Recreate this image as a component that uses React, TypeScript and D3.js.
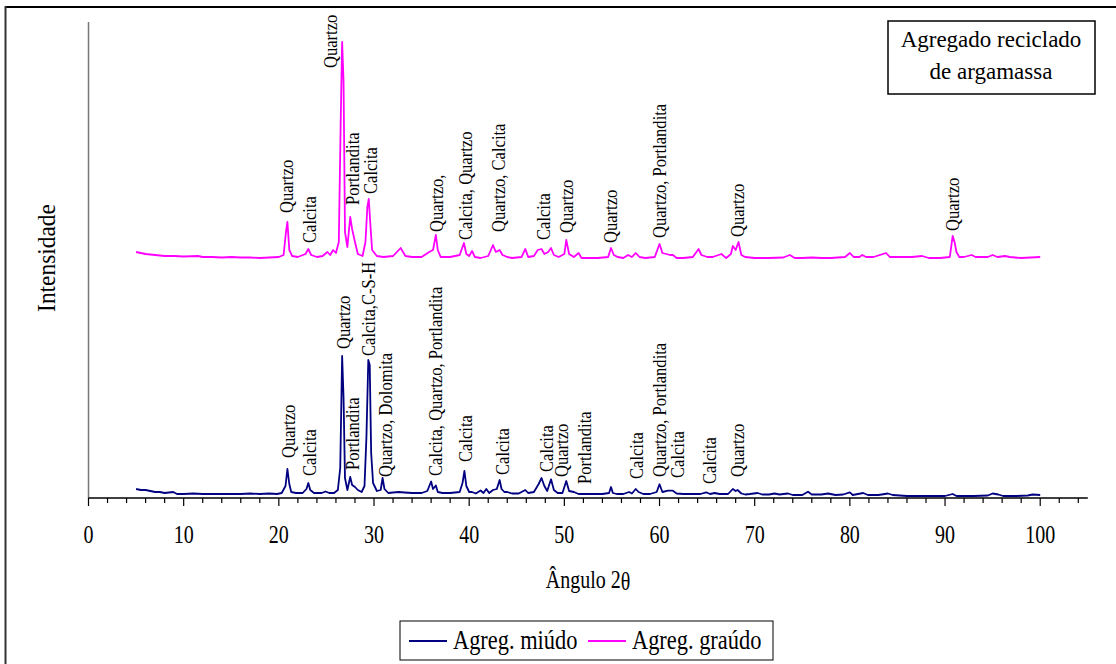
import React from "react";
import * as d3 from "d3";

// Difratograma de raios X – agregado reciclado de argamassa
// Pairs are [ângulo 2θ, intensidade (u.a.)]

const agregMiudo: [number, number][] = [
  [5.0, 9], [5.5, 8], [6.0, 8], [6.5, 7], [7.0, 6], [7.5, 6], [8.0, 5], [8.9, 6], [9.3, 4],
  [10, 4], [11, 4.5], [12, 4], [13, 4], [14, 4], [15, 4], [16, 4], [17, 4.5], [18, 4],
  [19, 4.5], [19.8, 4], [20.3, 5], [20.7, 12], [20.9, 29], [21.1, 14], [21.3, 6], [21.8, 5],
  [22.5, 5], [22.9, 9], [23.1, 15], [23.3, 8], [23.7, 5], [24.5, 5], [24.9, 6.5], [25.3, 5],
  [25.8, 5], [26.2, 8], [26.45, 30], [26.65, 142], [26.8, 100], [26.95, 20], [27.2, 8],
  [27.5, 21], [27.7, 13], [28.0, 11], [28.3, 8], [28.7, 6], [29.0, 12], [29.2, 60],
  [29.4, 138], [29.55, 133], [29.7, 45], [29.9, 15], [30.3, 7], [30.7, 8], [30.9, 20],
  [31.1, 9], [31.5, 5], [32.0, 5.5], [32.6, 6], [33.2, 5.5], [34, 5], [35, 5], [35.6, 7],
  [36.0, 16.5], [36.2, 9], [36.5, 12.5], [36.7, 6], [37.2, 5], [38, 5], [39.0, 6], [39.3, 15],
  [39.5, 27], [39.7, 12], [40.0, 6], [40.3, 6], [40.7, 4.5], [41.2, 7.5], [41.5, 5], [41.8, 9],
  [42.1, 5], [42.5, 8], [42.9, 9], [43.2, 18], [43.4, 9], [43.7, 6], [44.0, 6], [44.5, 4.5],
  [45.2, 4.5], [45.9, 8], [46.2, 5], [46.8, 6], [47.3, 14], [47.6, 20], [47.9, 12], [48.2, 7],
  [48.6, 18.7], [48.9, 8], [49.3, 5], [49.8, 5], [50.2, 17], [50.5, 7], [51.0, 6], [51.5, 4],
  [52, 4], [53, 4], [54, 4], [54.7, 5], [54.9, 11], [55.1, 5], [55.5, 4], [56.2, 4], [56.8, 6],
  [57.1, 4.5], [57.5, 9], [57.8, 6], [58.3, 4], [59.0, 4], [59.7, 6], [60.0, 13.7], [60.3, 6],
  [60.9, 7.3], [61.4, 7.3], [61.8, 4.5], [62.5, 4], [63.5, 4], [64.3, 4], [64.9, 5.7], [65.3, 4],
  [65.8, 5], [66.3, 4], [67.2, 4], [67.7, 9], [68.0, 7], [68.2, 8], [68.6, 4.5], [69.0, 3.5],
  [69.5, 4], [70.3, 5], [70.8, 3.5], [71.5, 3.5], [72.1, 4.5], [72.6, 3.5], [73.5, 4.5], [74, 3],
  [75, 3], [75.6, 6.3], [76, 3.5], [77, 3.5], [77.7, 4.5], [78.5, 3], [79.3, 3.5], [80.0, 5.7],
  [80.3, 3], [81.4, 5], [81.9, 3], [83, 3], [84.0, 4.5], [84.5, 3], [86, 2], [88, 2], [90, 2],
  [90.8, 4], [91.2, 2], [93, 2], [94.5, 2.5], [95.0, 4.5], [95.6, 3.5], [96.1, 2], [97.5, 2],
  [98.7, 2.5], [99.2, 3.5], [100, 3],
];

const agregGraudo: [number, number][] = [
  [5.0, 10], [5.5, 9], [6.0, 8], [6.5, 7.5], [7, 7], [8, 6], [9, 6], [10, 5.5], [11.5, 6], [12, 5],
  [13, 5], [14, 4.5], [15, 5], [16, 4.5], [17, 4.5], [18, 4], [19, 4.5], [20, 5], [20.5, 7],
  [20.75, 30], [20.9, 40], [21.1, 12], [21.4, 6], [22, 5], [22.8, 8], [23.1, 13], [23.4, 7],
  [24, 5], [24.6, 6], [25.1, 10], [25.4, 7], [25.7, 12], [26.0, 9], [26.3, 20], [26.5, 140],
  [26.65, 220], [26.8, 180], [26.95, 30], [27.2, 15], [27.5, 45], [27.7, 33], [28.0, 20],
  [28.3, 8], [28.8, 6], [29.1, 20], [29.3, 55], [29.45, 63], [29.6, 40], [29.8, 12], [30.3, 6],
  [31, 5], [32.0, 6], [32.8, 14], [33.3, 6], [34, 5], [35, 5], [35.8, 10], [36.2, 12], [36.5, 27],
  [36.7, 12], [37.0, 5], [37.5, 5], [38, 5], [39.0, 7], [39.45, 19], [39.7, 8], [40.0, 6],
  [40.3, 11], [40.6, 5], [41.2, 4], [42.0, 6], [42.5, 17], [42.8, 10], [43.2, 12], [43.5, 7],
  [44, 5], [44.5, 4], [45.5, 5], [45.9, 13], [46.2, 5], [46.8, 6], [47.2, 12], [47.6, 13],
  [47.9, 8], [48.3, 10], [48.6, 14], [48.9, 7], [49.4, 5], [50.0, 8], [50.2, 22], [50.5, 8],
  [51.0, 5], [51.5, 9], [51.8, 4], [52.5, 4], [53.5, 4], [54.6, 5], [54.9, 14], [55.2, 7],
  [55.6, 5], [56.2, 4], [56.7, 7], [57.1, 5], [57.5, 9], [57.9, 5], [58.5, 4], [59.5, 5],
  [60.0, 18], [60.3, 9], [60.7, 8], [61.1, 7], [61.4, 7], [61.8, 4], [62.5, 4], [63.5, 5],
  [64.1, 13], [64.4, 7], [65.0, 5], [65.6, 5], [66.5, 8], [67.0, 4], [67.5, 8], [67.7, 16],
  [68.0, 12], [68.3, 20], [68.6, 7], [69.0, 5], [70, 4], [71.5, 4], [73, 4.5], [73.7, 7],
  [74.2, 4], [75, 4], [76, 4.5], [77, 4], [78, 4], [79.5, 5], [80.0, 9], [80.4, 5], [81.0, 5],
  [81.3, 7], [81.7, 5], [82.5, 5], [83.8, 9], [84.2, 5], [85.5, 5], [86.5, 5], [87.6, 6],
  [88.3, 4], [89.5, 4], [90.5, 5], [90.8, 26], [91.0, 20], [91.2, 10], [91.5, 5], [92.0, 5],
  [92.8, 7], [93.2, 5], [94.5, 5], [95.0, 7], [95.5, 5], [96.3, 6], [96.8, 5], [98, 4],
  [99, 4.5], [100, 5],
];

// vertical shift applied to the coarse aggregate pattern
const offsetGraudo = 236;

// phase identifications: [2θ, level above the pattern's zero, text]
const picosMiudo: [number, number, string][] = [
  [21.01, 40, "Quartzo"],
  [23.19, 22, "Calcita"],
  [26.79, 149, "Quartzo"],
  [27.81, 28, "Portlandita"],
  [29.42, 142, "Calcita,C-S-H"],
  [31.18, 21, "Quartzo, Dolomita"],
  [36.5, 22, "Calcita, Quartzo, Portlandita"],
  [39.66, 36, "Calcita"],
  [43.51, 23, "Calcita"],
  [48.14, 26, "Calcita"],
  [49.72, 21, "Quartzo"],
  [52.1, 14, "Portlandita"],
  [57.6, 19, "Calcita"],
  [60.0, 21, "Quartzo, Portlandita"],
  [61.91, 20, "Calcita"],
  [65.32, 14, "Calcita"],
  [68.22, 21, "Quartzo"],
];

const picosGraudo: [number, number, string][] = [
  [20.87, 49, "Quartzo"],
  [23.26, 19, "Calcita"],
  [25.5, 194, "Quartzo"],
  [27.71, 57, "Portlandita"],
  [29.67, 68, "Calcita"],
  [36.57, 30, "Quartzo,"],
  [39.66, 22, "Calcita, Quartzo"],
  [43.06, 30, "Quartzo, Calcita"],
  [47.79, 22, "Calcita"],
  [50.28, 29, "Quartzo"],
  [54.91, 19, "Quartzo"],
  [60.0, 24, "Quartzo, Portlandita"],
  [68.22, 25, "Quartzo"],
  [90.77, 31, "Quartzo"],
];

const xTickValues = d3.range(0, 105, 2);
const xLabelValues = d3.range(0, 101, 10);

const legenda = [
  { nome: "Agreg. miúdo", cor: "#000080" },
  { nome: "Agreg. graúdo", cor: "#FF00FF" },
];

const titulo = ["Agregado reciclado", "de argamassa"];

const W = 1116;
const H = 664;
const FONT = "'Liberation Serif', 'Times New Roman', serif";

export default function App() {
  const x = d3.scaleLinear().domain([0, 105]).range([88.5, 1087.8]);
  const y = d3.scaleLinear().domain([0, 476]).range([498, 22]);

  const lineMiudo = d3
    .line<[number, number]>()
    .x((d) => x(d[0]))
    .y((d) => y(d[1]));
  const lineGraudo = d3
    .line<[number, number]>()
    .x((d) => x(d[0]))
    .y((d) => y(d[1] + offsetGraudo));

  const peakLabel = (p: [number, number, string], base: number, i: number) => (
    <text
      key={i}
      transform={`translate(${x(p[0])},${y(p[1] + base)}) rotate(-90) scale(0.92,1)`}
      dy="0.35em"
      fontSize={18}
      textAnchor="start"
    >
      {p[2]}
    </text>
  );

  return (
    <svg
      width={W}
      height={H}
      style={{ position: "absolute", left: 0, top: 0, background: "#fff" }}
      fontFamily={FONT}
    >
      <rect x={0} y={0} width={W} height={H} fill="#fff" />
      {/* outer frame */}
      <line x1={5} y1={7} x2={W} y2={7} stroke="#000" strokeWidth={2} />
      <line x1={5.5} y1={6} x2={5.5} y2={H} stroke="#333" strokeWidth={2} />

      {/* y axis */}
      <line x1={x(0)} y1={y(476)} x2={x(0)} y2={y(0)} stroke="#777" strokeWidth={1.5} />

      {/* x axis */}
      <line x1={x(0)} y1={y(0)} x2={x(105)} y2={y(0)} stroke="#000" strokeWidth={1.5} />
      {xTickValues.map((t) => (
        <line
          key={t}
          x1={x(t)}
          x2={x(t)}
          y1={y(0)}
          y2={y(0) + (t % 10 === 0 ? 8 : 5)}
          stroke="#000"
          strokeWidth={1.2}
        />
      ))}
      {xLabelValues.map((t) => (
        <text
          key={t}
          transform={`translate(${x(t)},543) scale(0.8,1)`}
          fontSize={25}
          textAnchor="middle"
        >
          {t}
        </text>
      ))}

      {/* axis titles */}
      <text transform={`translate(588,588) scale(0.8,1)`} fontSize={25} textAnchor="middle">
        Ângulo 2<tspan dy={2}>θ</tspan>
      </text>
      <text
        transform={`translate(55,258) rotate(-90) scale(0.9,1)`}
        fontSize={26}
        textAnchor="middle"
      >
        Intensidade
      </text>

      {/* patterns */}
      <path d={lineGraudo(agregGraudo) ?? ""} fill="none" stroke="#FF00FF" strokeWidth={1.8} strokeLinejoin="round" />
      <path d={lineMiudo(agregMiudo) ?? ""} fill="none" stroke="#000080" strokeWidth={1.8} strokeLinejoin="round" />

      {/* phase labels */}
      <g fill="#000">
        {picosGraudo.map((p, i) => peakLabel(p, offsetGraudo, i))}
        {picosMiudo.map((p, i) => peakLabel(p, 0, i + 100))}
      </g>

      {/* title box */}
      <rect x={888} y={21} width={207} height={73} fill="#fff" stroke="#000" strokeWidth={1.5} />
      {titulo.map((t, i) => (
        <text key={t} x={991} y={47 + i * 31.5} fontSize={23} textAnchor="middle">
          {t}
        </text>
      ))}

      {/* legend */}
      <rect x={400} y={621} width={373} height={39} fill="#fff" stroke="#000" strokeWidth={1} />
      {legenda.map((l, i) => {
        const x0 = i === 0 ? 409 : 588;
        return (
          <g key={l.nome}>
            <line x1={x0} x2={x0 + 38} y1={641} y2={641} stroke={l.cor} strokeWidth={1.8} />
            <text transform={`translate(${x0 + 44},649) scale(0.83,1)`} fontSize={27}>
              {l.nome}
            </text>
          </g>
        );
      })}
    </svg>
  );
}
